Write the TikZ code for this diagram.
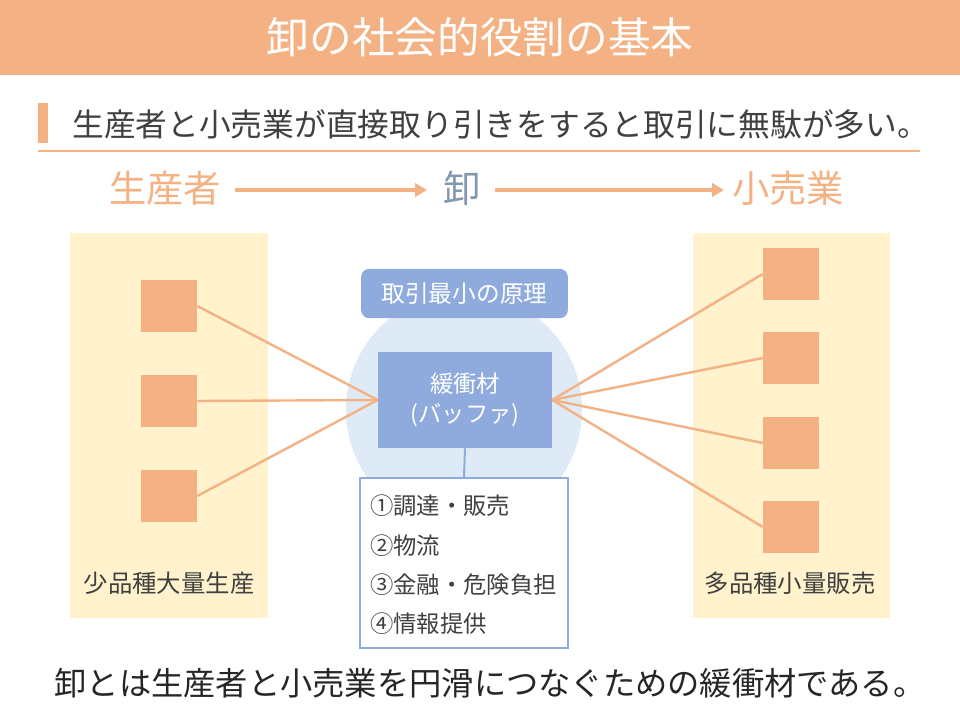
\documentclass[tikz,border=0pt]{standalone}
\usepackage{fontspec}
\usetikzlibrary{arrows.meta}
\setmainfont{Noto Sans CJK JP}
\definecolor{org}{HTML}{F4B183}
\definecolor{yel}{HTML}{FFF2CC}
\definecolor{blu}{HTML}{8FAADC}
\definecolor{lblu}{HTML}{DEEBF7}
\definecolor{gblu}{HTML}{8497B0}
\definecolor{dg}{HTML}{404040}
\begin{document}
\begin{tikzpicture}[x=0.75pt,y=-0.75pt,
  sq/.style={fill=org,draw=none,minimum width=42pt,minimum height=39pt,inner sep=0},
  con/.style={draw=org,line width=1.8pt},
  item/.style={anchor=west,font=\fontsize{17.5}{20}\selectfont,text=dg,inner sep=0}]
\useasboundingbox (0,0) rectangle (960,720);
\fill[white] (0,0) rectangle (960,720);
\fill[org] (0,0) rectangle (960,75);
\node[text=white,font=\fontsize{32}{36}\selectfont] (title) at (480,37) {卸の社会的役割の基本};
\fill[org] (38,103) rectangle (48,143);
\node[anchor=west,text=dg,font=\fontsize{23.8}{28}\selectfont,inner sep=0] (sub) at (72,124) {生産者と小売業が直接取り引きをすると取引に無駄が多い。};
\draw[org,line width=1pt] (38,151) -- (920,151);
\node[text=org,font=\fontsize{28}{32}\selectfont] (p) at (165,188) {生産者};
\node[text=gblu,font=\fontsize{28}{32}\selectfont] (w) at (462,188) {卸};
\node[text=org,font=\fontsize{28}{32}\selectfont] (r) at (788,188) {小売業};
\draw[org,line width=3pt,-{Triangle[length=9pt,width=10pt]}] (235,190) -- (427,190);
\draw[org,line width=3pt,-{Triangle[length=9pt,width=10pt]}] (495,190) -- (724,190);
\fill[yel] (70,233) rectangle (268,618);
\fill[yel] (693,233) rectangle (890,618);
\fill[lblu] (464,410) circle (118);
\node[fill=blu,rounded corners=6pt,minimum width=155pt,minimum height=37pt,text=white,font=\fontsize{17.8}{20}\selectfont] (pr) at (464.5,293.5) {取引最小の原理};
\node[fill=blu,minimum width=130.5pt,minimum height=72pt,text=white,align=center,font=\fontsize{17.5}{23}\selectfont] (buf) at (465,400) {緩衝材\\(バッファ)};
\node[draw=blu,line width=1.5pt,fill=white,minimum width=156pt,minimum height=127.5pt] (lst) at (464,563) {};
\draw[blu,line width=1.5pt] (buf.south) -- (lst.north);
\node[item] (i1) at (370,506) {①調達・販売};
\node[item] (i2) at (370,546) {②物流};
\node[item] (i3) at (370,585) {③金融・危険負担};
\node[item] (i4) at (370,624) {④情報提供};
\foreach \n/\y in {a/306,b/401,c/496}{
  \node[sq] (l\n) at (169,\y) {};
  \draw[con] (l\n.east) -- (buf.west);}
\foreach \n/\y in {a/274,b/358,c/443,d/527}{
  \node[sq] (r\n) at (791,\y) {};
  \draw[con] (r\n.west) -- (buf.east);}
\node[text=dg,font=\fontsize{18.3}{21}\selectfont] (lt) at (169,583) {少品種大量生産};
\node[text=dg,font=\fontsize{18.3}{21}\selectfont] (rt) at (790,583) {多品種小量販売};
\node[text=black!85,font=\fontsize{24.2}{28}\selectfont] (bot) at (490,683) {卸とは生産者と小売業を円滑につなぐための緩衝材である。};
\end{tikzpicture}
\end{document}
